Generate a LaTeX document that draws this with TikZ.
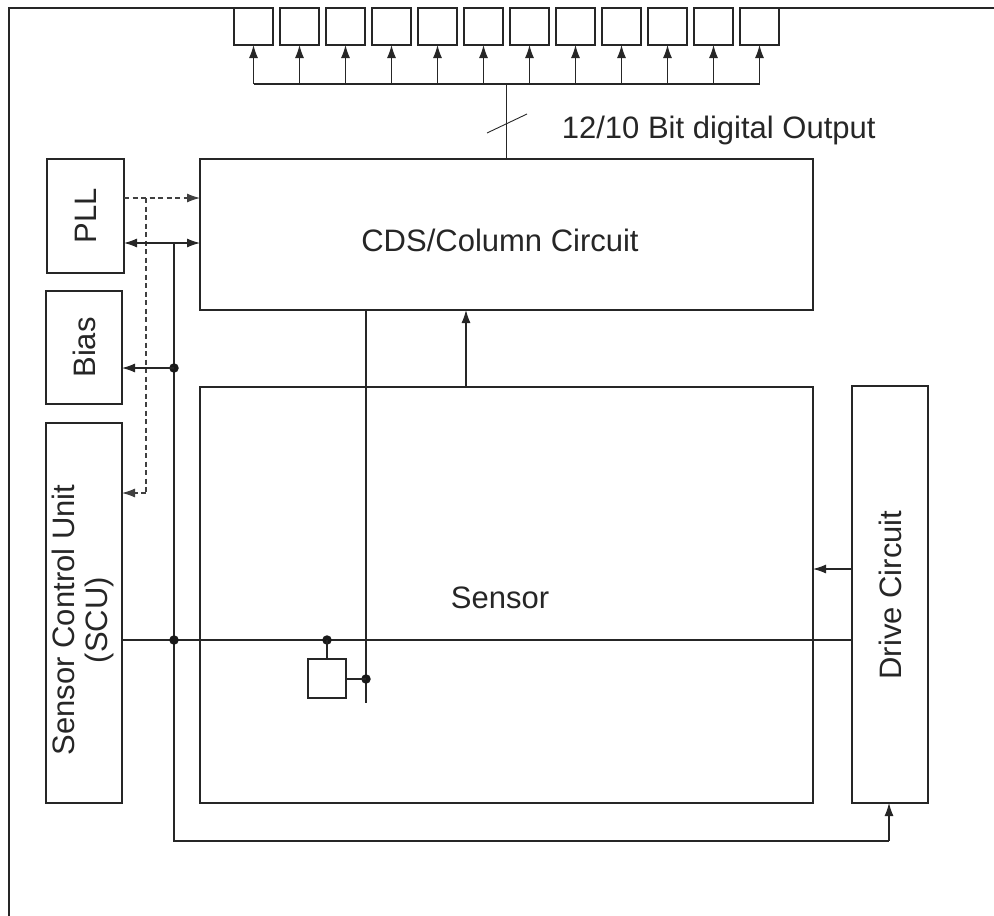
\documentclass[tikz,border=0pt]{standalone}
\usepackage{fontspec}
\setmainfont{Liberation Sans}
\usetikzlibrary{arrows.meta,calc}
\begin{document}
\begin{tikzpicture}[x=1pt,y=-1pt,
  line width=1.1pt, draw=black!85,
  txt/.style={font=\fontsize{31}{33}\selectfont, text=black!85},
  box/.style={draw=black!85, inner sep=0pt, outer sep=0pt, txt},
  arr/.style={-{Latex[length=13pt,width=9pt]}},
  darr/.style={{Latex[length=13pt,width=9pt]}-{Latex[length=13pt,width=9pt]}},
  dsh/.style={dash pattern=on 5pt off 3.5pt, draw=black!75},
  dot/.style={circle, fill=black!90, inner sep=0pt, minimum size=9.5pt}
]
\useasboundingbox (0,0) rectangle (994,916);
% frame
\coordinate (fbl) at (9,916);
\coordinate (ftl) at (9,8);
\coordinate (ftm) at (234,8);
\coordinate (ftr0) at (778,8);
\coordinate (ftr) at (994,8);
\draw (fbl) -- (ftl) -- (ftm);
\draw (ftr0) -- (ftr);
% output registers
\foreach \i in {1,...,12}{
  \node[box, minimum width=39pt, minimum height=37pt] (o\i) at ({253.5+46*(\i-1)},26.5) {};
}
\coordinate (busl) at (253.5,84);
\coordinate (busr) at (759.5,84);
\draw (busl) -- (busr);
\foreach \i in {1,...,12}{
  \draw[arr] (o\i.south |- busl) -- (o\i.south);
}
% CDS
\node[box, minimum width=613pt, minimum height=151pt] (cds) at (506.5,234.5) {};
\node[txt] (cdst) at (500,240) {CDS/Column Circuit};
\draw (cds.north) -- (cds.north |- busl);
\coordinate (sl1) at (487,133);
\coordinate (sl2) at (527,114);
\draw[line width=0.9pt] (sl1) -- (sl2);
\node[txt, anchor=west] (outl) at (558,130) {12/10 Bit digital Output};
% left blocks
\node[box, minimum width=77pt, minimum height=114pt] (pll) at (85.5,216) {};
\node[txt, rotate=90] (pllt) at (85.5,216) {PLL};
\node[box, minimum width=76pt, minimum height=113pt] (bias) at (84,347.5) {};
\node[txt, rotate=90] (biast) at (84,347.5) {Bias};
\node[box, minimum width=76pt, minimum height=380pt] (scu) at (84,613) {};
\node[txt, rotate=90, align=center] (scut) at (83,620) {Sensor Control Unit\\(SCU)};
% sensor & drive
\node[box, minimum width=613pt, minimum height=416pt] (sens) at (506.5,595) {};
\node[txt] (senst) at (500,598) {Sensor};
\node[box, minimum width=76pt, minimum height=417pt] (drv) at (890,594.5) {};
\node[txt, rotate=90] (drvt) at (890,595) {Drive Circuit};
% PLL connections
\coordinate (dk) at (146,198);
\coordinate (dkb) at (146,493);
\draw[dsh, arr] (pll.east |- dk) -- (cds.west |- dk);
\draw[dsh] (dk) -- (dkb);
\draw[dsh, arr] (dkb) -- (scu.east |- dkb);
\coordinate (ck) at (174,243);
\draw[darr] (pll.east |- ck) -- (cds.west |- ck);
% control bus
\coordinate (cb) at (174,841);
\coordinate (cbr) at (889,841);
\draw (ck) -- (cb) -- (cbr);
\draw[arr] (cbr) -- (drv.south -| cbr);
\node[dot] (d1) at (174,368) {};
\draw[arr] (d1.center) -- (bias.east |- d1);
\coordinate (hl) at (174,640);
\draw (scu.east |- hl) -- (drv.west |- hl);
\node[dot] (d2) at (174,640) {};
% drive to sensor
\coordinate (dv) at (852,569);
\draw[arr] (drv.west |- dv) -- (sens.east |- dv);
% sensor to CDS
\coordinate (sc) at (466,387);
\draw[arr] (sens.north -| sc) -- (cds.south -| sc);
% column line
\coordinate (colt) at (366,310);
\coordinate (colb) at (366,703);
\draw (cds.south -| colt) -- (colb);
% pixel
\node[box, minimum width=38pt, minimum height=39pt] (px) at (327,678.5) {};
\node[dot] (d3) at (327,640) {};
\draw (d3.center) -- (px.north);
\node[dot] (d4) at (366,679) {};
\draw (px.east |- d4) -- (d4.center);
\end{tikzpicture}
\end{document}
